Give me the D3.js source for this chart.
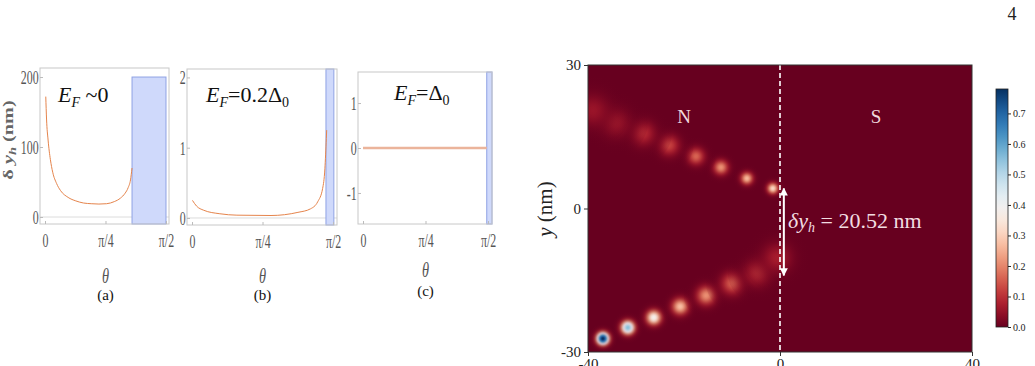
<!doctype html>
<html lang="en">
<head>
<meta charset="utf-8">
<title>Hole reflection shift</title>
<script src="https://cdn.jsdelivr.net/npm/d3@7/dist/d3.min.js"></script>
<style>
body{margin:0;background:#fff;}
svg{display:block;}
</style>
</head>
<body>
<svg id="fig" width="1035" height="366"></svg>
<script>
// ---- data ----
var thetaTicks = [0, Math.PI/4, Math.PI/2];
var thetaTickLabels = ["0", "π/4", "π/2"];

// (a) E_F ~ 0 : delta y_h (nm) vs theta
var thetaA = [0.01,0.02,0.04,0.07,0.10,0.15,0.20,0.30,0.40,0.50,0.60,0.70,0.80,0.90,0.98,1.04,1.08,1.11,1.13];
var dyA    = [172,140,110,82,64,48,38,28,23,20,19,18.5,19,22,27,34,42,53,70];
var bandA  = [1.13, Math.PI/2];
var bandATop = 200;

// (b) E_F = 0.2 Delta_0
var thetaB = [0.005,0.05,0.13,0.31,0.50,0.88,1.18,1.32,1.40,1.455,1.48,1.496,1.50];
var dyB    = [0.25,0.17,0.11,0.06,0.04,0.035,0.08,0.13,0.23,0.42,0.70,1.13,1.25];
var bandB  = [1.492, 1.58];

// (c) E_F = Delta_0
var thetaC = [0.0, 1.555];
var dyC    = [0, 0];
var bandC  = [1.555, 1.621];

// heatmap blobs (x nm, y nm, peak, width nm)
var spotX    = [-1.5,-6.9,-12.3,-17.5,-23.1,-28.5,-34.4,-39.0, -36.9,-31.7,-26.3,-20.8,-15.4,-10.0,-4.6,-0.6];
var spotY    = [4.2,6.3,8.6,10.9,13.2,15.7,18.0,20.5, -27.2,-24.9,-22.8,-20.5,-18.2,-15.7,-13.4,-10.3];
var spotPeak = [0.31,0.26,0.21,0.16,0.12,0.09,0.07,0.055, 0.78,0.55,0.38,0.27,0.21,0.15,0.10,0.07];
var spotW    = [0.9,1.0,1.2,1.4,1.7,2.0,2.3,2.6, 1.0,1.1,1.2,1.35,1.55,1.8,2.1,2.4];
var mapXTicks = [-40, 0, 40];
var mapYTicks = [-30, 0, 30];
var cbarTicks = [0,0.1,0.2,0.3,0.4,0.5,0.6,0.7];
var cbarMax = 0.78;
var arrowX = 0.8, arrowY = [4.2, -14.0];

var svg = d3.select("#fig");
var orange = "#e5844c";
var minus = function(d) { return d < 0 ? "-" + (-d) : d; };

// ---- left panels ----
var panels = [
  {t: thetaA, v: dyA, band: bandA, bandTop: bandATop, x0: 40, x1: 169, y0: 68, y1: 224,
   xd: [-0.065, 1.61], yd: [-10, 212.9], yt: [0,100,200], grid: true, lw: 1, lc: orange, lab: "(a)", th: 276, lb: 300},
  {t: thetaB, v: dyB, band: bandB, x0: 187, x1: 337, y0: 69, y1: 225,
   xd: [-0.056, 1.615], yd: [-0.1, 2.12], yt: [0,1,2], grid: true, lw: 1, lc: orange, lab: "(b)", th: 276, lb: 300},
  {t: thetaC, v: dyC, band: bandC, x0: 358, x1: 492, y0: 72, y1: 224,
   xd: [-0.063, 1.621], yd: [-1.69, 1.69], yt: [-1,0,1], grid: false, lw: 2.5, lc: "#ebb49b", lab: "(c)", th: 270, lb: 296}
];

panels.forEach(function(p) {
  var x = d3.scaleLinear().domain(p.xd).range([p.x0, p.x1]);
  var y = d3.scaleLinear().domain(p.yd).range([p.y1, p.y0]);
  var g = svg.append("g");

  if (p.grid) {
    g.append("line").attr("x1", p.x0).attr("x2", p.x1)
      .attr("y1", y(0)).attr("y2", y(0)).attr("stroke", "#dcdcdc");
  }
  // shaded band
  var top = p.bandTop !== undefined ? y(p.bandTop) : p.y0;
  g.append("rect")
    .attr("x", x(p.band[0])).attr("y", top)
    .attr("width", x(p.band[1]) - x(p.band[0])).attr("height", p.y1 - top)
    .attr("fill", "#cfd9fb").attr("stroke", "#8fa2e4").attr("stroke-width", 1);

  var line = d3.line().curve(d3.curveMonotoneX)
    .x(function(d, i) { return x(p.t[i]); })
    .y(function(d) { return y(d); });
  g.append("path").attr("d", line(p.v))
    .attr("fill", "none").attr("stroke", p.lc).attr("stroke-width", p.lw);

  // frame
  g.append("rect").attr("x", p.x0).attr("y", p.y0)
    .attr("width", p.x1 - p.x0).attr("height", p.y1 - p.y0)
    .attr("fill", "none").attr("stroke", "#c8c8c8");

  var xa = d3.axisBottom(x).tickValues(thetaTicks)
    .tickFormat(function(d, i) { return thetaTickLabels[i]; })
    .tickSizeInner(-3).tickSizeOuter(0).tickPadding(10);
  var gx = g.append("g").attr("transform", "translate(0," + p.y1 + ")").call(xa);
  var ya = d3.axisLeft(y).tickValues(p.yt).tickFormat(minus)
    .tickSizeInner(-3).tickSizeOuter(0).tickPadding(2);
  var gy = g.append("g").attr("transform", "translate(" + p.x0 + ",0)").call(ya);
  [gx, gy].forEach(function(a) {
    a.select(".domain").remove();
    a.selectAll("line").attr("stroke", "#bbb");
    a.selectAll("text").attr("fill", "#555")
      .style("font-size", "18px").attr("transform", "scale(0.66,1)");
  });
  gy.selectAll("text").attr("dy", "0.36em");

  g.append("text").attr("transform", "translate(" + x(Math.PI/4) + "," + p.th + ") scale(0.72,1)")
    .attr("text-anchor", "middle").attr("dy", "0.35em")
    .style("font-style", "italic").style("font-size", "20px")
    .attr("fill", "#555").text("θ");
  g.append("text").attr("x", x(Math.PI/4)).attr("y", p.lb)
    .attr("text-anchor", "middle").style("font-size", "15px")
    .attr("fill", "#111").text(p.lab);
});

// y label of panel (a)
var yl = svg.append("text").attr("transform", "translate(13,140) rotate(-90) scale(1.45,1)")
  .attr("text-anchor", "middle").style("font-size", "14px")
  .style("font-weight", "bold").attr("fill", "#666");
yl.append("tspan").text("δ ");
yl.append("tspan").style("font-style", "italic").text("y");
yl.append("tspan").style("font-style", "italic").style("font-size", "10px").attr("dy", 3).text("h");
yl.append("tspan").attr("dy", -3).text(" (nm)");

// E_F labels
function efLabel(x0, yb, parts) {
  var t = svg.append("text").attr("x", x0).attr("y", yb)
    .style("font-size", "22px").attr("fill", "#111");
  t.append("tspan").style("font-style", "italic").text("E");
  t.append("tspan").style("font-style", "italic").style("font-size", "14px").attr("dy", 5).text("F");
  t.append("tspan").attr("dy", -5).text(parts[0]);
  if (parts[1]) t.append("tspan").style("font-size", "14px").attr("dy", 5).text(parts[1]);
}
efLabel(58, 102, [" ~0"]);
efLabel(206, 102, ["=0.2Δ", "0"]);
efLabel(394, 100, ["=Δ", "0"]);

// ---- heatmap ----
var mx = d3.scaleLinear().domain([-40, 40]).range([588, 972]);
var my = d3.scaleLinear().domain([-30, 30]).range([352, 65]);
var color = d3.scaleSequential(d3.interpolateRdBu).domain([0, cbarMax]);
var defs = svg.append("defs");
defs.append("clipPath").attr("id", "mapclip").append("rect")
  .attr("x", 588).attr("y", 65).attr("width", 384).attr("height", 287);

var map = svg.append("g").attr("clip-path", "url(#mapclip)");
map.append("rect").attr("x", 588).attr("y", 65).attr("width", 384).attr("height", 287)
  .attr("fill", color(0));

var pxPerNm = mx(1) - mx(0);
var nStops = 40;
spotX.forEach(function(sx, i) {
  var id = "spot" + i;
  var grad = defs.append("radialGradient").attr("id", id);
  d3.range(0, nStops + 1).forEach(function(k) {
    var r = 3 * k / nStops;          // in units of width
    var gval = Math.exp(-r * r / 2);
    grad.append("stop").attr("offset", k / nStops)
      .attr("stop-color", color(spotPeak[i] * gval))
      .attr("stop-opacity", Math.sqrt(gval));
  });
  map.append("circle").attr("cx", mx(sx)).attr("cy", my(spotY[i]))
    .attr("r", 3 * spotW[i] * pxPerNm).attr("fill", "url(#" + id + ")");
});

// interface line
map.append("line").attr("x1", mx(0)).attr("x2", mx(0)).attr("y1", 65).attr("y2", 352)
  .attr("stroke", "#fff").attr("stroke-width", 1.6).attr("stroke-dasharray", "5,3");

// double arrow
defs.append("marker").attr("id", "ah").attr("viewBox", "0 0 10 10").attr("refX", 9).attr("refY", 5)
  .attr("markerWidth", 4).attr("markerHeight", 4).attr("orient", "auto-start-reverse")
  .append("path").attr("d", "M0,0 L10,5 L0,10 z").attr("fill", "#fff");
svg.append("line").attr("x1", mx(arrowX)).attr("x2", mx(arrowX))
  .attr("y1", my(arrowY[0])).attr("y2", my(arrowY[1]))
  .attr("stroke", "#fff").attr("stroke-width", 2)
  .attr("marker-start", "url(#ah)").attr("marker-end", "url(#ah)");

var dt = svg.append("text").attr("x", 788).attr("y", 228)
  .style("font-size", "22px").attr("fill", "#f2dde1");
dt.append("tspan").style("font-style", "italic").text("δy");
dt.append("tspan").style("font-style", "italic").style("font-size", "14px").attr("dy", 4).text("h");
dt.append("tspan").attr("dy", -4).text(" = 20.52 nm");

svg.append("text").attr("x", mx(-20)).attr("y", 123).attr("text-anchor", "middle")
  .style("font-size", "19px").attr("fill", "#f0d8dc").text("N");
svg.append("text").attr("x", mx(20)).attr("y", 123).attr("text-anchor", "middle")
  .style("font-size", "19px").attr("fill", "#f0d8dc").text("S");

svg.append("rect").attr("x", 588).attr("y", 65).attr("width", 384).attr("height", 287)
  .attr("fill", "none").attr("stroke", "#333").attr("stroke-width", 1);

var mgx = svg.append("g").attr("transform", "translate(0,352)")
  .call(d3.axisBottom(mx).tickValues(mapXTicks).tickSize(4).tickPadding(2).tickFormat(minus));
var mgy = svg.append("g").attr("transform", "translate(588,0)")
  .call(d3.axisLeft(my).tickValues(mapYTicks).tickSize(4).tickPadding(3).tickFormat(minus));
[mgx, mgy].forEach(function(a) {
  a.select(".domain").remove();
  a.selectAll("line").attr("stroke", "#333");
  a.selectAll("text").attr("fill", "#222").style("font-size", "15px");
});

var myl = svg.append("text").attr("transform", "translate(552,209) rotate(-90)")
  .attr("text-anchor", "middle").style("font-size", "21px").attr("fill", "#222");
myl.append("tspan").style("font-style", "italic").text("y");
myl.append("tspan").text(" (nm)");

// colorbar
var cy = d3.scaleLinear().domain([0, cbarMax]).range([327, 89]);
var cg = defs.append("linearGradient").attr("id", "cbar").attr("x1", 0).attr("y1", 1).attr("x2", 0).attr("y2", 0);
d3.range(0, 21).forEach(function(k) {
  cg.append("stop").attr("offset", k / 20).attr("stop-color", color(cbarMax * k / 20));
});
svg.append("rect").attr("x", 996).attr("y", 89).attr("width", 12).attr("height", 238)
  .attr("fill", "url(#cbar)").attr("stroke", "#222").attr("stroke-width", 0.8);
var cga = svg.append("g").attr("transform", "translate(1008,0)")
  .call(d3.axisRight(cy).tickValues(cbarTicks).tickSize(3).tickPadding(2).tickFormat(d3.format(".1f")));
cga.select(".domain").remove();
cga.selectAll("line").attr("stroke", "#222");
cga.selectAll("text").attr("fill", "#222").style("font-size", "10px");

// page number
svg.append("text").attr("x", 1012).attr("y", 20).attr("text-anchor", "middle")
  .style("font-size", "18px").attr("fill", "#222").text("4");

// one serif face for every text
svg.selectAll("text").style("font-family", "'Liberation Serif'");
</script>
</body>
</html>
